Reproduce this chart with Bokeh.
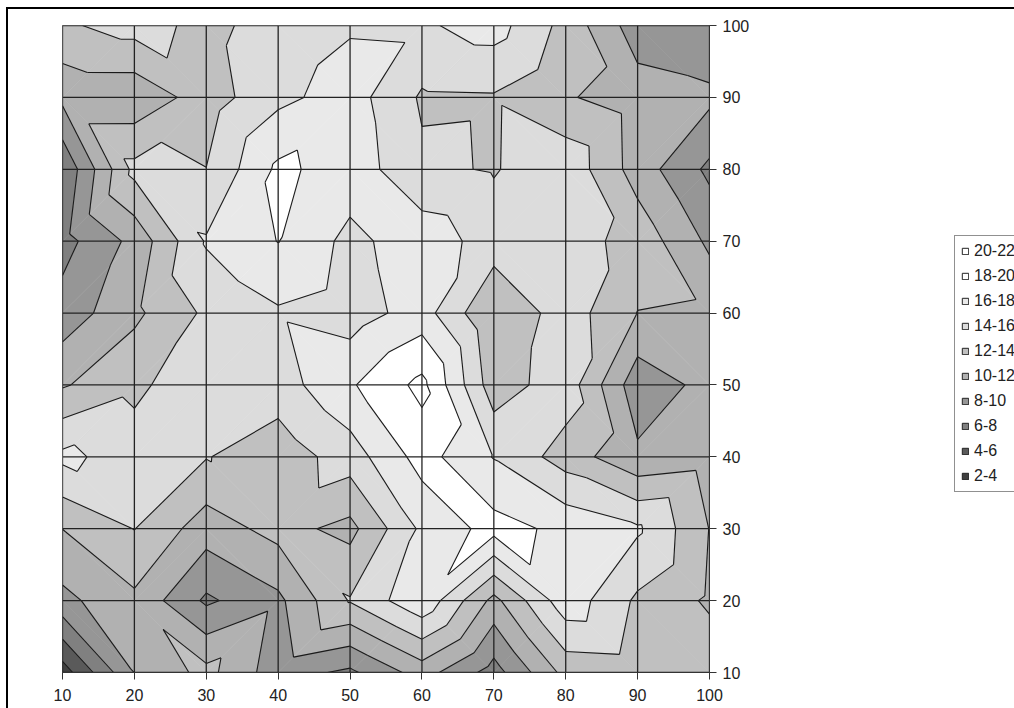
from bokeh.plotting import figure
from bokeh.layouts import row
from bokeh.embed import file_html
from bokeh.resources import INLINE
from bokeh.models import Range1d, LinearAxis, FixedTicker, Legend, LegendItem, ColumnDataSource

# Grid coordinates and values (rows from y=100 down to y=10)
x_values = [10, 20, 30, 40, 50, 60, 70, 80, 90, 100]
y_values = [100, 90, 80, 70, 60, 50, 40, 30, 20, 10]
row_100 = [13.68, 14.83, 13.42, 14.9, 15.8, 15.72, 16.84, 13.34, 8.9, 8.1]
row_90 = [10.5, 10.51, 13.0, 15.5, 16.9, 13.75, 13.82, 12.2, 11.0, 10.48]
row_80 = [6.26, 14.6, 14.03, 18.4, 17.15, 14.37, 13.85, 15.44, 11.09, 7.55]
row_70 = [7.27, 10.6, 16.2, 18.05, 15.42, 17.2, 15.06, 14.86, 13.3, 9.6]
row_60 = [8.8, 11.58, 14.36, 15.75, 15.0, 16.9, 12.05, 15.05, 11.95, 11.7]
row_50 = [11.8, 13.5, 15.6, 15.05, 17.75, 20.55, 12.85, 15.2, 8.74, 10.65]
row_40 = [16.5, 15.03, 14.1, 12.8, 15.0, 18.8, 15.9, 13.06, 10.4, 11.0]
row_30 = [12.02, 14.05, 10.95, 12.7, 11.4, 16.4, 18.75, 17.5, 16.3, 11.95]
row_20 = [9.44, 11.58, 7.65, 9.55, 14.15, 17.58, 11.4, 17.26, 13.64, 11.7]
row_10 = [3.0, 10.03, 12.63, 8.87, 7.6, 10.9, 7.14, 12.65, 12.9, 13.3]
rows = [row_100, row_90, row_80, row_70, row_60, row_50, row_40, row_30, row_20, row_10]

band_labels = ["20-22", "18-20", "16-18", "14-16", "12-14", "10-12", "8-10", "6-8", "4-6", "2-4"]
band_lows = [20, 18, 16, 14, 12, 10, 8, 6, 4, 2]
band_colors = ["#ffffff", "#ffffff", "#e9e9e9", "#dcdcdc", "#c0c0c0", "#b1b1b1",
               "#969696", "#808080", "#5a5a5a", "#404040"]
tick_values = [10, 20, 30, 40, 50, 60, 70, 80, 90, 100]


def clip(poly, level, keep_above):
    out = []
    for i, a in enumerate(poly):
        b = poly[(i + 1) % len(poly)]
        ina = a[2] >= level if keep_above else a[2] <= level
        inb = b[2] >= level if keep_above else b[2] <= level
        if ina:
            out.append(a)
        if ina != inb:
            t = (level - a[2]) / (b[2] - a[2])
            out.append((a[0] + t * (b[0] - a[0]), a[1] + t * (b[1] - a[1]), level))
    return out


# Each grid cell is split in two triangles by the diagonal with the larger sum
triangles = []
for j in range(len(y_values) - 1):
    for i in range(len(x_values) - 1):
        c = [(x_values[i], y_values[j], rows[j][i]),
             (x_values[i + 1], y_values[j], rows[j][i + 1]),
             (x_values[i + 1], y_values[j + 1], rows[j + 1][i + 1]),
             (x_values[i], y_values[j + 1], rows[j + 1][i])]
        if c[0][2] + c[2][2] >= c[1][2] + c[3][2]:
            triangles.append([c[0], c[1], c[2]])
            triangles.append([c[0], c[2], c[3]])
        else:
            triangles.append([c[1], c[2], c[3]])
            triangles.append([c[1], c[3], c[0]])

fx, fy, fc = [], [], []
lx, ly = [], []
for low, col in zip(band_lows, band_colors):
    for t in triangles:
        poly = clip(t, low, True)
        if poly:
            poly = clip(poly, low + 2, False)
        if len(poly) >= 3:
            fx.append([q[0] for q in poly])
            fy.append([q[1] for q in poly])
            fc.append(col)
    for t in triangles:
        pts = []
        for a, b in ((t[0], t[1]), (t[1], t[2]), (t[2], t[0])):
            if (a[2] - low) * (b[2] - low) < 0:
                s = (low - a[2]) / (b[2] - a[2])
                pts.append((a[0] + s * (b[0] - a[0]), a[1] + s * (b[1] - a[1])))
        if len(pts) == 2:
            lx.append([pts[0][0], pts[1][0]])
            ly.append([pts[0][1], pts[1][1]])

p = figure(width=800, height=708, output_backend="svg", toolbar_location=None,
           x_range=Range1d(10, 100), y_range=Range1d(10, 100),
           min_border_left=62, min_border_right=91, min_border_top=25, min_border_bottom=36,
           x_axis_location=None, y_axis_location=None)
p.frame_width = 647
p.frame_height = 647
p.styles = {"background": "linear-gradient(#000,#000) 6px 7px / 2px 100% no-repeat, "
                          "linear-gradient(#000,#000) 6px 7px / 100% 2px no-repeat"}
p.border_fill_alpha = 0
p.grid.visible = False
p.outline_line_color = "#555555"

p.patches(fx, fy, fill_color=fc, line_color=fc, line_width=0.6)
p.multi_line(lx, ly, line_color="#1a1a1a", line_width=1.1)
p.multi_line([[v, v] for v in tick_values], [[10, 100] for v in tick_values],
             line_color="#222222", line_width=1.3)
p.multi_line([[10, 100] for v in tick_values], [[v, v] for v in tick_values],
             line_color="#222222", line_width=1.3)

ax_b = LinearAxis(ticker=FixedTicker(ticks=tick_values))
ax_r = LinearAxis(ticker=FixedTicker(ticks=tick_values))
for ax in (ax_b, ax_r):
    ax.major_label_text_font = "Liberation Sans"
    ax.major_label_text_font_size = "16px"
    ax.major_label_text_color = "#222222"
    ax.major_tick_in = 0
    ax.major_tick_out = 7
    ax.major_tick_line_color = "#333333"
    ax.minor_tick_line_color = None
    ax.axis_line_color = "#333333"
ax_b.major_label_standoff = 9
ax_r.major_label_standoff = 6
p.add_layout(ax_b, "below")
p.add_layout(ax_r, "right")

q = figure(width=214, height=708, output_backend="svg", toolbar_location=None,
           x_range=Range1d(0, 1), y_range=Range1d(0, 1),
           min_border_left=0, min_border_right=0, min_border_top=0, min_border_bottom=0,
           x_axis_location=None, y_axis_location=None)
q.grid.visible = False
q.outline_line_color = None
q.border_fill_alpha = 0
q.background_fill_alpha = 0
q.styles = {"background": "linear-gradient(#000,#000) 0 7px / 100% 2px no-repeat"}

nan = float("nan")
src = ColumnDataSource(dict(l=[nan], r=[nan], b=[nan], t=[nan]))
items = []
for lab, col in zip(band_labels, band_colors):
    r = q.quad(left="l", right="r", bottom="b", top="t", source=src,
               fill_color=col, line_color="#222222", line_width=1)
    items.append(LegendItem(label=lab, renderers=[r], index=0))
leg = Legend(items=items, location=(154, 180), orientation="vertical",
             glyph_width=8, glyph_height=8, label_height=16, label_width=60,
             spacing=7, padding=6, margin=0, label_standoff=5,
             label_text_font="Liberation Sans", label_text_font_size="16px",
             label_text_color="#222222",
             border_line_color="#222222", border_line_width=1.2,
             background_fill_color="#ffffff", background_fill_alpha=1)
q.add_layout(leg, "center")

open("out.html", "w").write(file_html(row(p, q), INLINE))
